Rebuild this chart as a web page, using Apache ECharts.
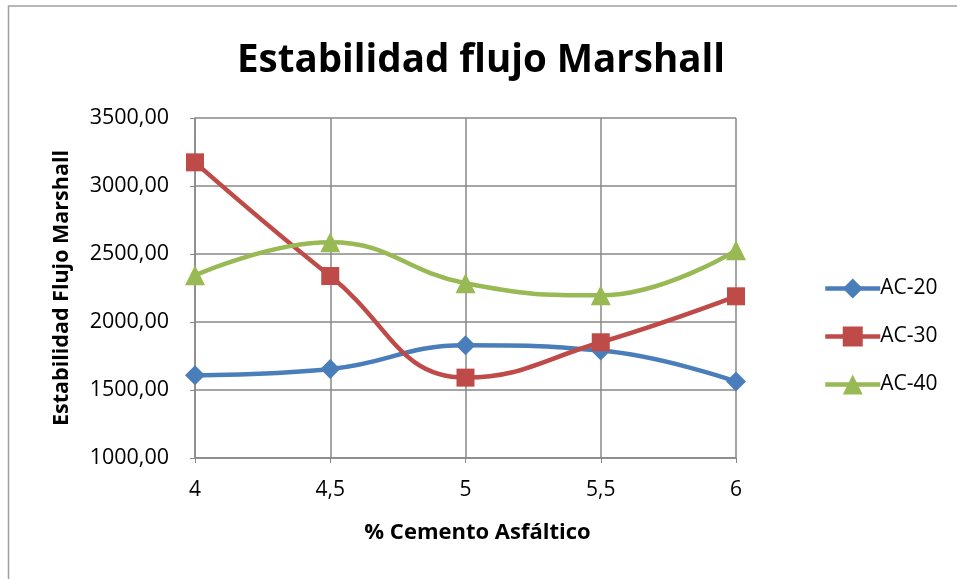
<!DOCTYPE html>
<html>
<head>
<meta charset="utf-8">
<script src="https://cdn.jsdelivr.net/npm/echarts@6/dist/echarts.min.js"></script>
<style>
  html, body { margin: 0; padding: 0; background: #fff; }
</style>
</head>
<body>
<div id="marshall" style="width:957px;height:579px;"></div>
<script>
  // % cemento asfaltico
  var categories = ['4', '4,5', '5', '5,5', '6']
  var ac20 = [1608, 1654, 1829, 1790, 1562]
  var ac30 = [3174, 2338, 1591, 1851, 2189]
  var ac40 = [2343, 2586, 2285, 2196, 2527]
  var yTicks = [1000, 1500, 2000, 2500, 3000, 3500]

  var font = 'Open Sans'
  var gridColor = '#888888'

  function serie(name, data, symbol, color) {
    return {
      name: name,
      type: 'line',
      data: data,
      smooth: 0.45,
      symbol: symbol,
      symbolSize: symbol === 'rect' ? 18 : 20,
      lineStyle: { width: 4.5, color: color },
      itemStyle: { color: color },
      emphasis: { disabled: true }
    }
  }

  var chart = echarts.init(document.getElementById('marshall'))
  chart.setOption({
    animation: false,
    graphic: [{
      type: 'rect',
      shape: { x: 8.5, y: 6, width: 1000, height: 1000 },
      style: { fill: 'none', stroke: '#a0a0a0', lineWidth: 1.5 }
    }],
    title: {
      text: 'Estabilidad flujo Marshall',
      left: 232,
      top: 37,
      textStyle: { fontFamily: font, fontWeight: 'bold', fontSize: 38.5, color: '#000' }
    },
    legend: {
      orient: 'vertical',
      left: 818,
      top: 273,
      itemGap: 27,
      itemWidth: 55,
      itemHeight: 25,
      lineStyle: { width: 4.5 },
      textStyle: { fontFamily: font, fontSize: 21, color: '#000', padding: [0, 0, 0, -5] },
      data: ['AC-20', 'AC-30', 'AC-40']
    },
    grid: { left: 195, right: 221, top: 118, bottom: 121 },
    xAxis: {
      type: 'category',
      data: categories,
      boundaryGap: false,
      name: '% Cemento Asfáltico',
      nameLocation: 'middle',
      nameGap: 64,
      nameTextStyle: { fontFamily: font, fontWeight: 'bold', fontSize: 22, color: '#000', padding: [0, 0, 0, 24] },
      axisLine: { lineStyle: { color: gridColor, width: 1.5 } },
      axisTick: { show: true, length: 5, lineStyle: { color: gridColor } },
      axisLabel: { fontFamily: font, fontSize: 21, color: '#000', margin: 22 },
      splitLine: { show: true, lineStyle: { color: gridColor, width: 1.5 } }
    },
    yAxis: {
      type: 'value',
      min: yTicks[0],
      max: yTicks[yTicks.length - 1],
      interval: 500,
      name: 'Estabilidad Flujo Marshall',
      nameLocation: 'middle',
      nameGap: 122,
      nameRotate: 90,
      nameTextStyle: { fontFamily: font, fontWeight: 'bold', fontSize: 21.5, color: '#000' },
      axisLine: { show: true, lineStyle: { color: gridColor, width: 1.5 } },
      axisTick: { show: true, length: 5, lineStyle: { color: gridColor } },
      axisLabel: {
        fontFamily: font, fontSize: 21.5, color: '#000', margin: 26,
        formatter: function (v) { return v.toFixed(2).replace('.', ',') }
      },
      splitLine: { show: true, lineStyle: { color: gridColor, width: 1.5 } }
    },
    series: [
      serie('AC-20', ac20, 'diamond', '#4A7EBB'),
      serie('AC-30', ac30, 'rect', '#BE4B48'),
      serie('AC-40', ac40, 'triangle', '#98B954')
    ]
  })
</script>
</body>
</html>
